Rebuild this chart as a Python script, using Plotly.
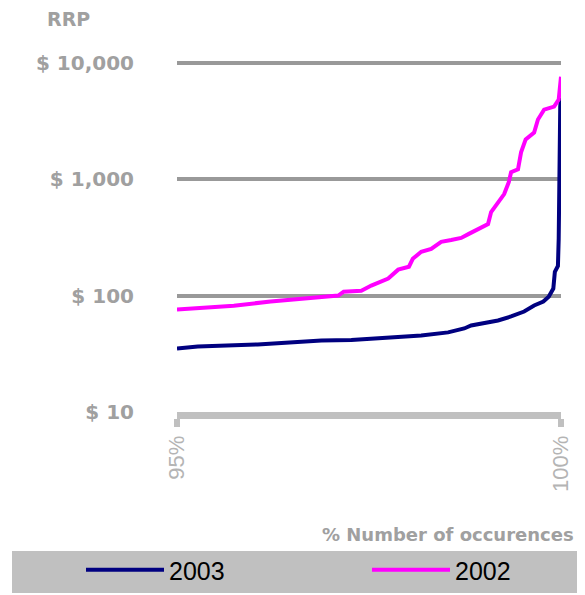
import plotly.graph_objects as go

# ---- data ----
pct_2002 = [95.0, 95.35, 95.74, 96.22, 96.45, 96.74, 97.10, 97.17, 97.40, 97.53,
            97.75, 97.88, 98.02, 98.07, 98.18, 98.31, 98.44, 98.57, 98.70, 98.80,
            98.92, 99.05, 99.09, 99.18, 99.26, 99.32, 99.35, 99.44, 99.48, 99.54,
            99.65, 99.70, 99.78, 99.91, 99.97, 100.0]
rrp_2002 = [76, 79, 82, 89, 92, 96, 100, 108, 110, 122,
            140, 167, 177, 207, 238, 252, 290, 300, 313, 339,
            374, 412, 522, 636, 745, 942, 1148, 1218, 1702, 2198,
            2521, 3260, 3963, 4207, 4830, 7590]

pct_2003 = [95.0, 95.27, 96.05, 96.88, 97.27, 97.79, 98.18, 98.53, 98.74, 98.83,
            99.0, 99.18, 99.35, 99.52, 99.65, 99.77, 99.84, 99.90, 99.92, 99.96,
            99.97, 99.98, 99.99, 100.0]
rrp_2003 = [35.2, 36.6, 38.1, 41.2, 41.5, 43.8, 45.5, 48.3, 52.2, 55.4,
            57.7, 61.1, 66.2, 73.0, 82.2, 88.9, 98.0, 115, 160, 180,
            307, 2198, 4207, 5020]

y_tickvals = [10, 100, 1000, 10000]
y_ticktext = ["$ 10", "$ 100", "$ 1,000", "$ 10,000"]
x_tickvals = [95, 100]
x_ticktext = ["95%", "100%"]

series_names = ["2003", "2002"]
series_colors = ["#000080", "#FF00FF"]

# helpers: convert page-pixel positions of the reference into paper coords
PLOT_L, PLOT_W, PLOT_B, PLOT_H = 177, 384, 412, 355
def px(sx):
    return (sx - PLOT_L) / PLOT_W
def py(sy):
    return (PLOT_B - sy) / PLOT_H

fig = go.Figure()
fig.add_trace(go.Scatter(x=pct_2003, y=rrp_2003, mode="lines", name=series_names[0],
                         legend="legend",
                         line=dict(color=series_colors[0], width=4)))
fig.add_trace(go.Scatter(x=pct_2002, y=rrp_2002, mode="lines", name=series_names[1],
                         legend="legend2",
                         line=dict(color=series_colors[1], width=4)))

# legend band
fig.add_shape(type="rect", xref="paper", yref="paper",
              x0=px(12), x1=px(590), y0=py(593), y1=py(551),
              fillcolor="#C0C0C0", line=dict(width=0), layer="below")

fig.add_annotation(text="RRP", xref="paper", yref="paper",
                   x=px(45), y=py(19), xanchor="left", yanchor="middle",
                   showarrow=False,
                   font=dict(family="DejaVu Sans", size=19, color="#A0A0A0", weight="bold"))
fig.add_annotation(text="% Number of occurences", xref="paper", yref="paper",
                   x=px(576), y=py(534), xanchor="right", yanchor="middle",
                   showarrow=False,
                   font=dict(family="DejaVu Sans", size=18, color="#A0A0A0", weight="bold"))

legend_font = dict(family="Liberation Sans", size=25, color="black")

fig.update_layout(
    width=577, height=587,
    margin=dict(l=169, r=24, t=49, b=183, autoexpand=False),
    paper_bgcolor="white", plot_bgcolor="white",
    showlegend=True,
    legend=dict(orientation="h", x=px(81), y=py(570), xanchor="left", yanchor="middle",
                bgcolor="rgba(0,0,0,0)", itemwidth=78, font=legend_font),
    legend2=dict(orientation="h", x=px(367), y=py(570), xanchor="left", yanchor="middle",
                 bgcolor="rgba(0,0,0,0)", itemwidth=78, font=legend_font),
    xaxis=dict(range=[95, 100], tickvals=x_tickvals, ticktext=x_ticktext,
               tickangle=-90, showgrid=False, zeroline=False,
               showline=True, linecolor="#C0C0C0", linewidth=7,
               ticks="outside", ticklen=8, tickwidth=6, tickcolor="#C0C0C0",
               tickfont=dict(family="Liberation Sans", size=22, color="#B4B4B4")),
    yaxis=dict(type="log", range=[1, 4.05], tickvals=y_tickvals, ticktext=y_ticktext,
               showgrid=True, gridcolor="#999999", gridwidth=4, zeroline=False,
               showline=False, ticks="", ticklabelstandoff=42,
               tickfont=dict(family="DejaVu Sans", size=20, color="#A0A0A0", weight="bold")),
)

fig.write_html("out.html")
